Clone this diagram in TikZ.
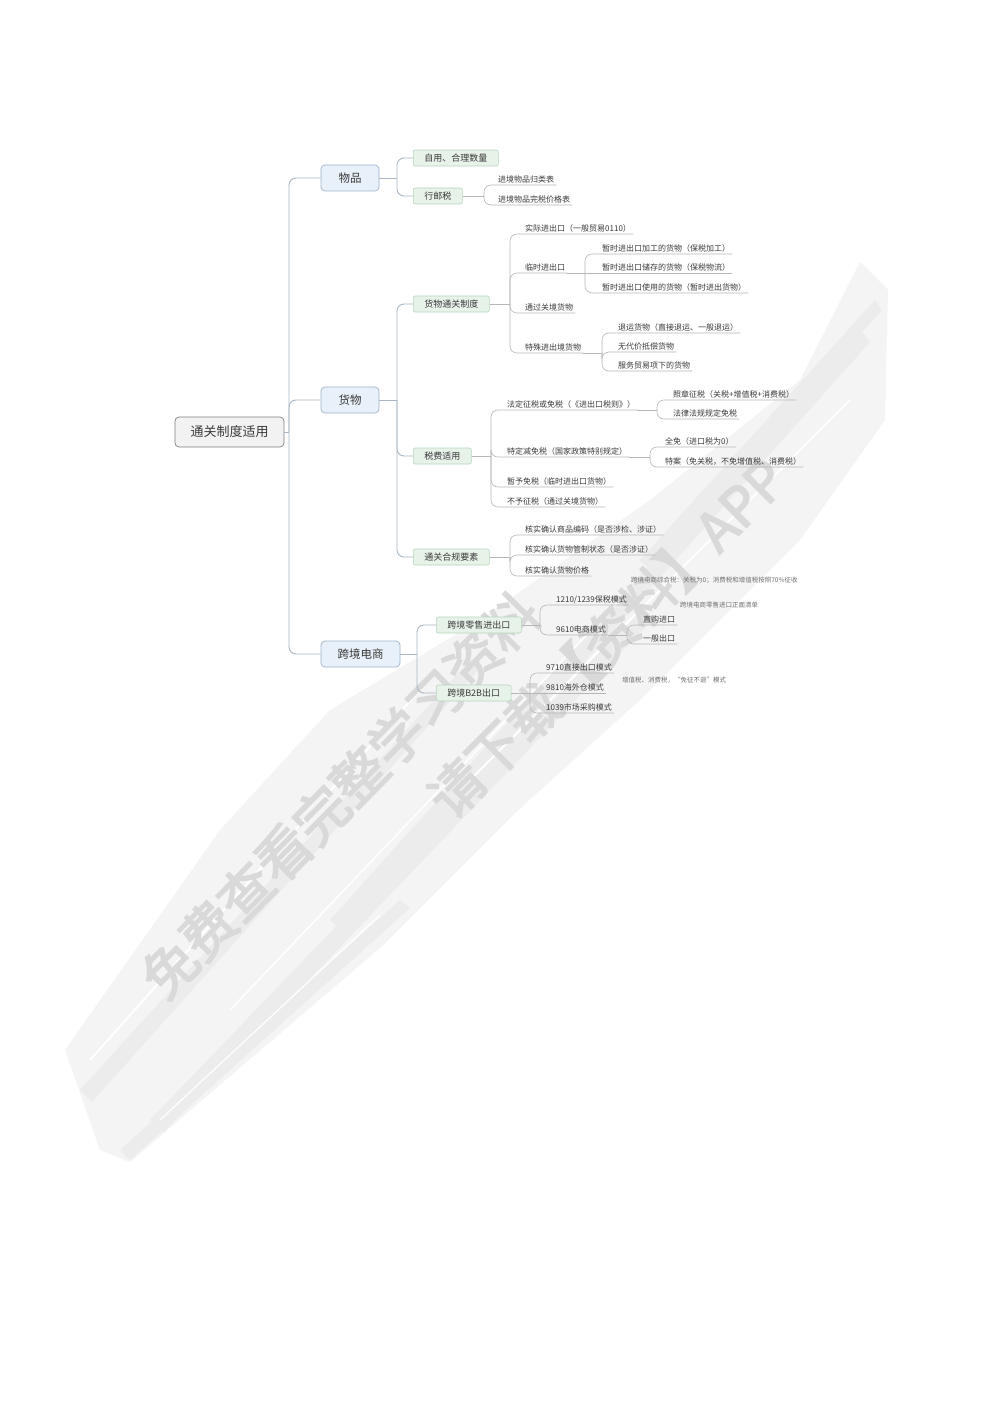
\documentclass[tikz,border=0pt]{standalone}
\usepackage{fontspec}
\setmainfont{Noto Sans CJK SC}
\newfontfamily\wmfont[FakeBold=3]{Noto Sans CJK SC}
\definecolor{textc}{HTML}{3A3A3A}
\definecolor{notec}{HTML}{707070}
\definecolor{linec}{HTML}{A9B8C4}
\definecolor{leafc}{HTML}{B4B9B6}
\definecolor{lafill}{HTML}{E8F0F9}
\definecolor{ladraw}{HTML}{9DB3CB}
\definecolor{lbfill}{HTML}{E7F3E9}
\definecolor{lbdraw}{HTML}{B5D6BD}
\definecolor{rtfill}{HTML}{F2F2F2}
\definecolor{rtdraw}{HTML}{7F7F7F}
\definecolor{bandc}{HTML}{F4F4F4}
\definecolor{streakc}{HTML}{ECECEC}
\definecolor{wmc}{HTML}{D9D9D9}
\begin{document}
\begin{tikzpicture}[x=1pt,y=-1pt,
  conn/.style={draw=linec,line width=0.9pt,rounded corners=7pt},
  lconn/.style={draw=leafc,line width=0.6pt,rounded corners=7pt},
  rootbox/.style={draw=rtdraw,fill=rtfill,rounded corners=4pt,line width=0.7pt,
     minimum width=109pt,minimum height=30pt,text=textc,font=\fontsize{13}{14}\selectfont},
  labox/.style={draw=ladraw,fill=lafill,rounded corners=4pt,line width=0.7pt,
     minimum height=26pt,text=textc,font=\fontsize{11.5}{13}\selectfont},
  lbbox/.style={draw=lbdraw,fill=lbfill,rounded corners=2pt,line width=0.6pt,anchor=west,
     minimum height=16pt,inner xsep=11pt,inner ysep=0pt,text=textc,font=\fontsize{9}{10}\selectfont},
  leaf/.style={anchor=south west,inner xsep=2pt,inner ysep=1.5pt,text height=6pt,text depth=1pt,
     text=textc,font=\fontsize{8}{9}\selectfont},
  note/.style={anchor=west,inner sep=0pt,text=notec,font=\fontsize{6.5}{7}\selectfont},
  wm/.style={text=wmc,font=\wmfont\fontsize{54}{54}\selectfont}
]
\useasboundingbox (0,0) rectangle (993,1404);
\fill[white] (0,0) rectangle (993,1404);
% ---------- watermark brush band ----------
\fill[bandc] (65,1050) -- (220,830) -- (330,710) -- (480,620) -- (650,500) -- (800,380)
   -- (860,262) -- (888,290) -- (885,420) -- (800,540) -- (640,700) -- (515,813)
   -- (381,947) -- (130,1162) -- (100,1150) -- cycle;
\fill[streakc] (80,1090) -- (470,660) -- (480,668) -- (92,1102) -- cycle;
\fill[streakc] (150,1120) -- (640,610) -- (652,620) -- (164,1132) -- cycle;
\fill[streakc] (330,920) -- (860,330) -- (870,342) -- (344,932) -- cycle;
\fill[streakc] (120,1150) -- (400,900) -- (410,908) -- (130,1160) -- cycle;
\fill[streakc] (640,560) -- (875,300) -- (882,310) -- (650,570) -- cycle;
\draw[white,line width=2pt] (90,1060) -- (420,690);
\draw[white,line width=1.5pt] (230,1010) -- (620,600);
\draw[white,line width=2pt] (470,780) -- (850,400);
\draw[white,line width=1.2pt] (160,1120) -- (380,915);
% ---------- watermark text ----------
\node[wm,rotate=45.5] (wm1) at (340,795) {免费查看完整学习资料};
\node[wm,rotate=45] (wm2) at (607,638) {请下载【资料】APP};
% ---------- root and level 1 ----------
\node[rootbox] (root) at (229.5,432) {通关制度适用};
\node[labox,minimum width=58pt] (wp) at (350,178) {物品};
\node[labox,minimum width=58pt] (hw) at (350,400) {货物};
\node[labox,minimum width=79pt] (kj) at (360.5,654) {跨境电商};
\draw[conn] (root.east) -- (289,432);
\draw[conn] (289,432) |- (wp.west);
\draw[conn] (289,432) |- (hw.west);
\draw[conn] (289,432) |- (kj.west);
% ---------- level 2 ----------
\node[lbbox] (zy) at (413,158) {自用、合理数量};
\node[lbbox] (xy) at (413,196) {行邮税};
\node[lbbox] (tg) at (413,304) {货物通关制度};
\node[lbbox] (sf) at (413,456) {税费适用};
\node[lbbox] (hg) at (413,557) {通关合规要素};
\node[lbbox] (ls) at (436,625) {跨境零售进出口};
\node[lbbox] (bb) at (436,693) {跨境B2B出口};
\draw[conn] (wp.east) -- (397,178);
\draw[conn] (397,178) |- (zy.west);
\draw[conn] (397,178) |- (xy.west);
\draw[conn] (hw.east) -- (397,400);
\draw[conn] (397,400) |- (tg.west);
\draw[conn] (397,400) |- (sf.west);
\draw[conn] (397,400) |- (hg.west);
\draw[conn] (kj.east) -- (417,654);
\draw[conn] (417,654) |- (ls.west);
\draw[conn] (417,654) |- (bb.west);
% ---------- 行邮税 ----------
\node[leaf] (x1) at (496,185) {进境物品归类表};
\node[leaf] (x2) at (496,205) {进境物品完税价格表};
\draw[lconn] (xy.east) -- (484,196);
\draw[lconn] (484,196) |- (x1.south east);
\draw[lconn] (484,196) |- (x2.south east);
% ---------- 货物通关制度 ----------
\node[leaf] (a1) at (523,234) {实际进出口（一般贸易0110）};
\node[leaf] (a2) at (523,273) {临时进出口};
\node[leaf] (a3) at (523,313) {通过关境货物};
\node[leaf] (a4) at (523,353) {特殊进出境货物};
\draw[lconn] (tg.east) -- (510,304);
\draw[lconn] (510,304) |- (a1.south east);
\draw[lconn] (510,304) |- (a2.south east);
\draw[lconn] (510,304) |- (a3.south east);
\draw[lconn] (510,304) |- (a4.south east);
\node[leaf] (a21) at (600,254) {暂时进出口加工的货物（保税加工）};
\node[leaf] (a22) at (600,273) {暂时进出口储存的货物（保税物流）};
\node[leaf] (a23) at (600,293) {暂时进出口使用的货物（暂时进出货物）};
\draw[lconn] (a2.south east) -- (585,273);
\draw[lconn] (585,273) |- (a21.south east);
\draw[lconn] (585,273) -- (a22.south east);
\draw[lconn] (585,273) |- (a23.south east);
\node[leaf] (a41) at (616,333) {退运货物（直接退运、一般退运）};
\node[leaf] (a42) at (616,352) {无代价抵偿货物};
\node[leaf] (a43) at (616,371) {服务贸易项下的货物};
\draw[lconn] (a4.south east) -- (602,353);
\draw[lconn] (602,353) |- (a41.south east);
\draw[lconn] (602,353) |- (a42.south east);
\draw[lconn] (602,353) |- (a43.south east);
% ---------- 税费适用 ----------
\node[leaf] (b1) at (505,410) {法定征税或免税（《进出口税则》）};
\node[leaf] (b2) at (505,457) {特定减免税（国家政策特别规定）};
\node[leaf] (b3) at (505,487) {暂予免税（临时进出口货物）};
\node[leaf] (b4) at (505,507) {不予征税（通过关境货物）};
\draw[lconn] (sf.east) -- (491,456);
\draw[lconn] (491,456) |- (b1.south east);
\draw[lconn] (491,456) |- (b2.south east);
\draw[lconn] (491,456) |- (b3.south east);
\draw[lconn] (491,456) |- (b4.south east);
\node[leaf] (b11) at (671,400) {照章征税（关税+增值税+消费税）};
\node[leaf] (b12) at (671,419) {法律法规规定免税};
\draw[lconn] (b1.south east) -- (657,410);
\draw[lconn] (657,410) |- (b11.south east);
\draw[lconn] (657,410) |- (b12.south east);
\node[leaf] (b21) at (663,447) {全免（进口税为0）};
\node[leaf] (b22) at (663,467) {特案（免关税，不免增值税、消费税）};
\draw[lconn] (b2.south east) -- (650,457);
\draw[lconn] (650,457) |- (b21.south east);
\draw[lconn] (650,457) |- (b22.south east);
% ---------- 通关合规要素 ----------
\node[leaf] (c1) at (523,535) {核实确认商品编码（是否涉检、涉证）};
\node[leaf] (c2) at (523,555) {核实确认货物管制状态（是否涉证）};
\node[leaf] (c3) at (523,576) {核实确认货物价格};
\draw[lconn] (hg.east) -- (510,557);
\draw[lconn] (510,557) |- (c1.south east);
\draw[lconn] (510,557) |- (c2.south east);
\draw[lconn] (510,557) |- (c3.south east);
\node[note] (n1) at (631,580) {跨境电商综合税：关税为0；消费税和增值税按照70\%征收};
% ---------- 跨境零售进出口 ----------
\node[leaf] (d1) at (554,605) {1210/1239保税模式};
\node[leaf] (d2) at (554,635) {9610电商模式};
\draw[lconn] (ls.east) -- (540,625);
\draw[lconn] (540,625) |- (d1.south east);
\draw[lconn] (540,625) |- (d2.south east);
\node[leaf] (d21) at (641,625) {直购进口};
\node[leaf] (d22) at (641,644) {一般出口};
\draw[lconn] (d2.south east) -- (627,635);
\draw[lconn] (627,635) |- (d21.south east);
\draw[lconn] (627,635) |- (d22.south east);
\node[note] (n2) at (680,605) {跨境电商零售进口正面清单};
% ---------- 跨境B2B出口 ----------
\node[leaf] (e1) at (544,673) {9710直接出口模式};
\node[leaf] (e2) at (544,693) {9810海外仓模式};
\node[leaf] (e3) at (544,713) {1039市场采购模式};
\draw[lconn] (bb.east) -- (530,693);
\draw[lconn] (530,693) |- (e1.south east);
\draw[lconn] (530,693) -- (e2.south east);
\draw[lconn] (530,693) |- (e3.south east);
\node[note] (n3) at (622,680) {增值税、消费税，“免征不退”模式};
\end{tikzpicture}
\end{document}
